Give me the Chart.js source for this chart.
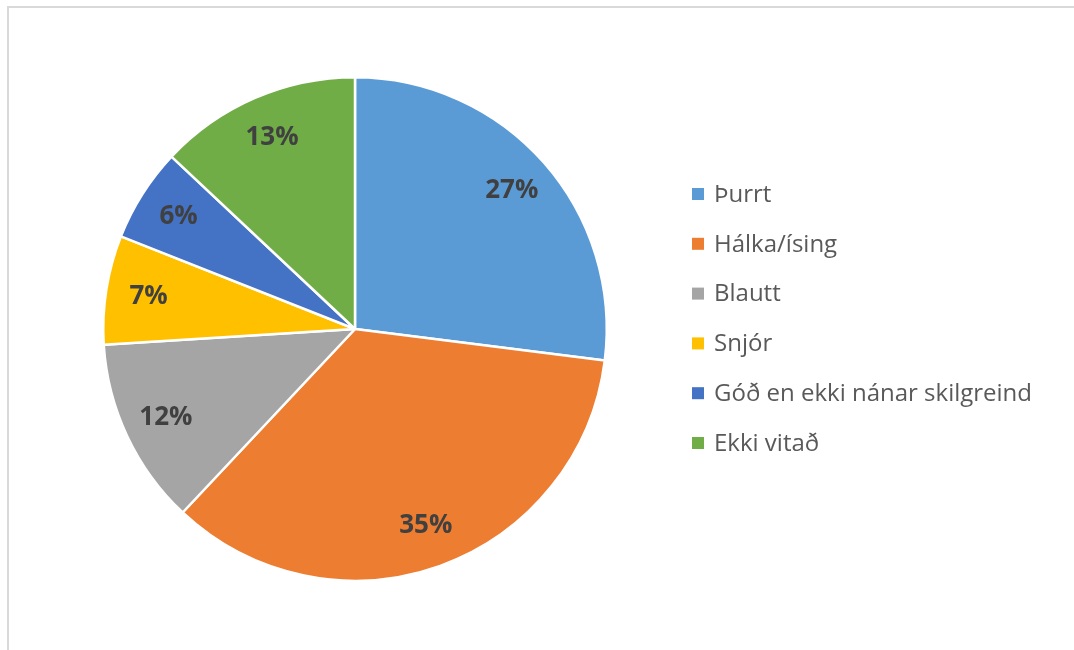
<!DOCTYPE html>
<html lang="is">
<head>
    <meta charset="UTF-8">
    <title>Ástand vegar</title>
    <script src="https://cdn.jsdelivr.net/npm/chart.js@4.4.1/dist/chart.umd.min.js"></script>
    <style>
        html, body {
            margin: 0;
            padding: 0;
            background: #ffffff;
            overflow: hidden;
        }
        .frame {
            position: absolute;
            left: 7px;
            top: 6px;
            width: 1200px;
            height: 800px;
            border-left: 2px solid #d9d9d9;
            border-top: 2px solid #d9d9d9;
        }
        #roadChart {
            position: absolute;
            left: 0;
            top: 0;
        }
    </style>
</head>
<body>
<div class="frame"></div>
<canvas id="roadChart" width="1074" height="650"></canvas>
<script>
    // Road surface condition, share of cases (%)
    const conditions = ['Þurrt', 'Hálka/ísing', 'Blautt', 'Snjór', 'Góð en ekki nánar skilgreind', 'Ekki vitað'];
    const shares = [27, 35, 12, 7, 6, 13];
    const sliceColors = ['#5b9bd5', '#ed7d31', '#a5a5a5', '#ffc000', '#4472c4', '#70ad47'];

    const FONT = '"Open Sans", "DejaVu Sans", sans-serif';

    // Percent labels inside each slice
    const sliceLabels = {
        id: 'sliceLabels',
        afterDatasetsDraw(chart) {
            const ctx = chart.ctx;
            const meta = chart.getDatasetMeta(0);
            const values = chart.data.datasets[0].data;
            ctx.save();
            ctx.font = 'bold 26px ' + FONT;
            ctx.fillStyle = '#404040';
            ctx.textAlign = 'center';
            ctx.textBaseline = 'middle';
            meta.data.forEach((arc, i) => {
                const mid = (arc.startAngle + arc.endAngle) / 2;
                const r = arc.outerRadius * 0.83;
                ctx.fillText(values[i] + '%', arc.x + Math.cos(mid) * r, arc.y + Math.sin(mid) * r);
            });
            ctx.restore();
        }
    };

    // Legend on the right side
    const sideLegend = {
        id: 'sideLegend',
        afterDraw(chart) {
            const ctx = chart.ctx;
            const colors = chart.data.datasets[0].backgroundColor;
            ctx.save();
            ctx.font = '24px ' + FONT;
            ctx.textBaseline = 'middle';
            ctx.textAlign = 'left';
            chart.data.labels.forEach((label, i) => {
                const y = 194 + i * 49.8;
                ctx.fillStyle = colors[i];
                ctx.fillRect(692, y - 6, 12, 12);
                ctx.fillStyle = '#595959';
                ctx.fillText(label, 714, y + 1);
            });
            ctx.restore();
        }
    };

    new Chart(document.getElementById('roadChart').getContext('2d'), {
        type: 'pie',
        data: {
            labels: conditions,
            datasets: [{
                data: shares,
                backgroundColor: sliceColors,
                borderColor: '#ffffff',
                borderWidth: 2.5
            }]
        },
        options: {
            responsive: false,
            animation: false,
            layout: {
                padding: { left: 102, top: 76, right: 466, bottom: 68 }
            },
            plugins: {
                legend: { display: false },
                tooltip: { enabled: false }
            }
        },
        plugins: [sliceLabels, sideLegend]
    });
</script>
</body>
</html>
